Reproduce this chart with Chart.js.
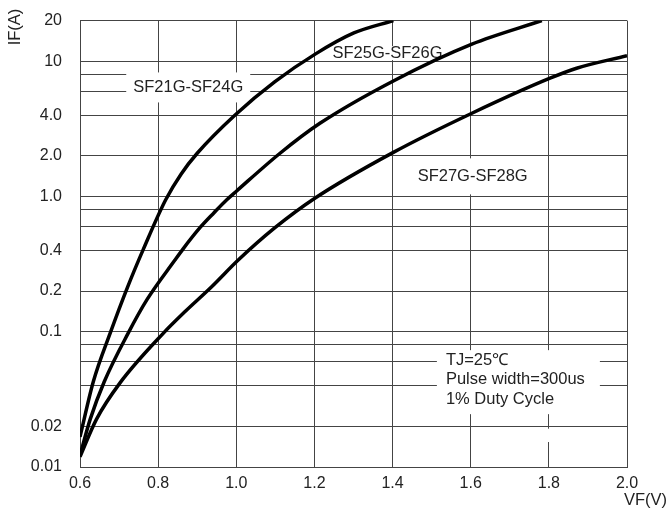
<!DOCTYPE html>
<html>
<head>
<meta charset="utf-8">
<script src="https://cdn.jsdelivr.net/npm/chart.js@4/dist/chart.umd.min.js"></script>
<style>
  html, body { margin: 0; padding: 0; background: #fff; }
  #wrap { width: 670px; height: 511px; position: relative; }
</style>
</head>
<body>
<div id="wrap"><canvas id="ivChart"></canvas></div>
<script>
// forward voltage ticks (V)
const vfTicks = [0.6, 0.8, 1.0, 1.2, 1.4, 1.6, 1.8, 2.0];
// forward current grid lines (A) and the labels printed next to them
const ifGrid = [0.01, 0.02, 0.04, 0.06, 0.08, 0.1, 0.2, 0.4, 0.6, 0.8, 1, 2, 4, 6, 8, 10, 20];
const ifLabels = ["0.01", "0.02", "", "", "", "0.1", "0.2", "0.4", "", "", "1.0", "2.0", "4.0", "", "", "10", "20"];

// curves
const sf21Vf = [0.600, 0.634, 0.677, 0.722, 0.762, 0.819, 0.859, 0.900, 0.997, 1.099, 1.202, 1.301, 1.402];
const sf21If = [0.0167, 0.0427, 0.0973, 0.215, 0.407, 0.943, 1.47, 2.09, 4.01, 7.07, 11.3, 16.2, 20];

const sf25Vf = [0.600, 0.626, 0.662, 0.723, 0.771, 0.843, 0.863, 0.907, 0.943, 0.975, 1.001, 1.112, 1.214, 1.402, 1.603, 1.782];
const sf25If = [0.0122, 0.0225, 0.0427, 0.0973, 0.172, 0.339, 0.407, 0.588, 0.759, 0.943, 1.10, 2.09, 3.48, 7.16, 13.4, 20];

const sf27Vf = [0.600, 0.642, 0.702, 0.813, 0.869, 0.937, 1.005, 1.099, 1.202, 1.402, 1.603, 1.803, 1.871, 2.000];
const sf27If = [0.0119, 0.0225, 0.0417, 0.0973, 0.141, 0.215, 0.339, 0.588, 0.975, 2.12, 4.13, 7.50, 8.89, 11.0];

const seriesNames = ["SF21G-SF24G", "SF25G-SF26G", "SF27G-SF28G"];
const noteLines = ["TJ=25\u2103", "Pulse width=300us", "1% Duty Cycle"];

function toPoints(xs, ys) {
    return xs.map((x, i) => ({ x: x, y: ys[i] }));
}

const FONT = "Liberation Sans, Arial, sans-serif";
const TEXT = "#222";
const GRID = "#444";

// white boxes behind the in-plot captions, then the captions (curves go on top)
const captionPlugin = {
    id: "captions",
    beforeDatasetsDraw(chart) {
        const ctx = chart.ctx;
        const xs = chart.scales.x, ys = chart.scales.y;
        ctx.save();
        ctx.font = "16.5px " + FONT;
        ctx.textBaseline = "middle";

        const boxes = [
            { text: [seriesNames[0]], vf: 0.877, amp: 6.41, w: 124, h: 30 },
            { text: [seriesNames[1]], vf: 1.387, amp: 11.5, w: 116, h: 14 },
            { text: [seriesNames[2]], vf: 1.605, amp: 1.41, w: 120, h: 36 },
            { text: noteLines, vf: 1.722, amp: 0.0424, w: 163, h: 64, left: true }
        ];
        boxes.forEach(b => {
            const cx = xs.getPixelForValue(b.vf);
            const cy = ys.getPixelForValue(b.amp);
            ctx.fillStyle = "#fff";
            ctx.fillRect(cx - b.w / 2, cy - b.h / 2, b.w, b.h);
            ctx.fillStyle = TEXT;
            if (b.left) {
                ctx.textAlign = "left";
                b.text.forEach((t, i) => {
                    ctx.fillText(t, cx - b.w / 2 + 9, cy - 22 + i * 19.5);
                });
            } else {
                ctx.textAlign = "center";
                ctx.fillText(b.text[0], cx, cy);
            }
        });

        // the 1.8 V line is also broken just under the note
        const x18 = xs.getPixelForValue(1.8);
        const gTop = ys.getPixelForValue(0.0192), gBot = ys.getPixelForValue(0.0153);
        ctx.fillStyle = "#fff";
        ctx.fillRect(x18 - 2, gTop, 4, gBot - gTop);
        ctx.restore();
    },
    afterDraw(chart) {
        const ctx = chart.ctx;
        ctx.save();
        ctx.font = "16.5px " + FONT;
        ctx.fillStyle = TEXT;
        ctx.textBaseline = "middle";
        ctx.textAlign = "right";
        ctx.fillText("VF(V)", 667, 500);
        ctx.translate(15, 27);
        ctx.rotate(-Math.PI / 2);
        ctx.textAlign = "center";
        ctx.fillText("IF(A)", 0, 0);
        ctx.restore();
    }
};

const lineStyle = {
    borderColor: "#000",
    borderWidth: 3.5,
    pointRadius: 0,
    fill: false,
    cubicInterpolationMode: "monotone"
};

new Chart(document.getElementById("ivChart"), {
    type: "line",
    data: {
        datasets: [
            Object.assign({ label: seriesNames[0], data: toPoints(sf21Vf, sf21If) }, lineStyle),
            Object.assign({ label: seriesNames[1], data: toPoints(sf25Vf, sf25If) }, lineStyle),
            Object.assign({ label: seriesNames[2], data: toPoints(sf27Vf, sf27If) }, lineStyle)
        ]
    },
    options: {
        responsive: true,
        maintainAspectRatio: false,
        animation: false,
        layout: { padding: { left: 0, right: 43, top: 10, bottom: 0 } },
        plugins: {
            legend: { display: false },
            tooltip: { enabled: false }
        },
        scales: {
            x: {
                type: "linear",
                min: 0.6,
                max: 2.0,
                afterBuildTicks: scale => { scale.ticks = vfTicks.map(v => ({ value: v })); },
                afterFit: scale => { scale.height = 44; },
                border: { display: true, color: GRID, width: 1 },
                grid: { color: GRID, lineWidth: 1, drawTicks: false },
                ticks: {
                    color: TEXT,
                    font: { family: FONT, size: 16 },
                    padding: 7,
                    maxRotation: 0,
                    autoSkip: false,
                    callback: v => v.toFixed(1)
                }
            },
            y: {
                type: "logarithmic",
                min: 0.01,
                max: 20,
                afterBuildTicks: scale => { scale.ticks = ifGrid.map(v => ({ value: v })); },
                afterFit: scale => { scale.width = 80; },
                border: { display: true, color: GRID, width: 1 },
                // invisible tick marks give the label gap without extra top padding
                grid: { color: GRID, lineWidth: 1, drawTicks: true, tickLength: 7, tickColor: "rgba(0,0,0,0)" },
                ticks: {
                    color: TEXT,
                    font: { family: FONT, size: 16 },
                    padding: 11,
                    autoSkip: false,
                    callback: v => ifLabels[ifGrid.indexOf(v)] ?? ""
                }
            }
        }
    },
    plugins: [captionPlugin]
});
</script>
</body>
</html>
